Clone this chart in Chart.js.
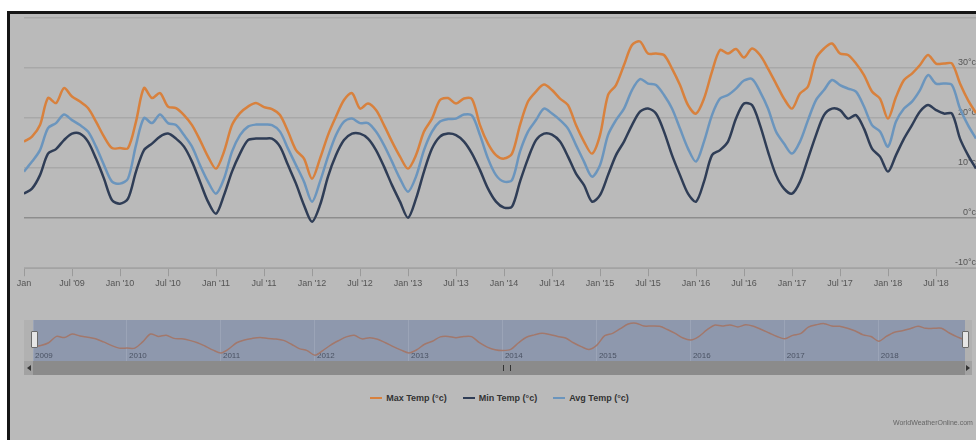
<!DOCTYPE html>
<html>
<head>
<meta charset="utf-8">
<script src="https://cdn.jsdelivr.net/npm/chart.js@4.4.1/dist/chart.umd.min.js"></script>
<style>
  body { margin: 0; width: 976px; height: 440px; background: #fff; position: relative; overflow: hidden;
         font-family: "Liberation Sans", Arial, sans-serif; }
  #frame { position: absolute; left: 7px; top: 11px; right: 0; bottom: 0; background: #bababa;
           border-left: 3px solid #151515; border-top: 3px solid #151515; }
  #mainChart { position: absolute; left: 0; top: 0; }
  #navOuter { position: absolute; left: 24px; top: 320px; width: 948px; height: 41px; background: #b1b1b1; }
  #navChart { position: absolute; left: 33px; top: 320px; background: #8e98ad; }
  .handle { position: absolute; top: 331px; width: 5px; height: 15px; background: #e6e6e6;
            border: 1px solid #6a6a6a; border-radius: 1px; }
  #scroll { position: absolute; left: 24px; top: 361px; width: 948px; height: 14px; background: #a2a2a2; }
  #thumb { position: absolute; left: 9px; top: 0; width: 932px; height: 14px; background: #8b8b8b; }
  .arrow { position: absolute; top: 4px; width: 0; height: 0; border-top: 3px solid transparent; border-bottom: 3px solid transparent; }
  #grip { position: absolute; left: 470px; top: 4px; width: 6px; height: 6px;
          border-left: 1px solid #333; border-right: 1px solid #333; }
  #legend { position: absolute; left: 0; top: 393px; width: 999px; display: flex; justify-content: center;
            font-size: 9px; font-weight: bold; color: #333; }
  #legend span { margin: 0 8px; display: flex; align-items: center; }
  #legend i { display: inline-block; width: 12px; height: 2px; margin-right: 4px; }
  #credit { position: absolute; left: 893px; top: 419px; font-size: 7px; color: #666; white-space: nowrap; }
</style>
</head>
<body>
<div id="frame"></div>
<canvas id="mainChart" width="976" height="292"></canvas>
<div id="navOuter"></div>
<canvas id="navChart" width="932" height="41"></canvas>
<div class="handle" style="left:31px"></div>
<div class="handle" style="left:962px"></div>
<div id="scroll">
  <div id="thumb"><div id="grip"></div></div>
  <div class="arrow" style="left:3px;border-right:4px solid #333"></div>
  <div class="arrow" style="left:942px;border-left:4px solid #333"></div>
</div>
<div id="legend"></div>
<div id="credit">WorldWeatherOnline.com</div>
<script>
Chart.defaults.font.family = '"Liberation Sans", Arial, sans-serif';

var TICK_LABELS = ['Jan', "Jul '09", "Jan '10", "Jul '10", "Jan '11", "Jul '11", "Jan '12", "Jul '12",
                   "Jan '13", "Jul '13", "Jan '14", "Jul '14", "Jan '15", "Jul '15", "Jan '16", "Jul '16",
                   "Jan '17", "Jul '17", "Jan '18", "Jul '18"];
var YEAR_LABELS = ['2009', '2010', '2011', '2012', '2013', '2014', '2015', '2016', '2017', '2018'];
var SERIES_NAMES = ['Max Temp (°c)', 'Min Temp (°c)', 'Avg Temp (°c)'];
var SERIES_COLORS = ['#d8813d', '#2f3d56', '#6b95bd'];

// monthly values, Jan 2009 .. Dec 2018
var MAX_TEMP = [
  15.3, 16.3, 18.6, 24.0, 23.0, 26.0, 24.3, 23.3, 22.0, 19.3, 16.3, 14.0,
  14.0, 14.0, 19.3, 26.0, 24.0, 25.0, 22.3, 22.0, 20.6, 18.6, 15.6, 12.3,
  9.9, 13.3, 18.6, 21.0, 22.3, 23.0, 22.2, 21.8, 20.6, 17.3, 13.6, 11.9,
  7.9, 11.9, 16.6, 20.3, 23.6, 25.0, 21.9, 22.9, 21.6, 18.6, 15.3, 12.3,
  9.9, 12.6, 17.3, 19.9, 23.6, 24.0, 22.9, 23.9, 23.8, 18.6, 14.9, 12.6,
  11.9, 12.9, 18.6, 23.3, 25.3, 26.7, 25.6, 23.9, 22.6, 18.6, 15.3, 12.9,
  16.6, 24.6, 26.6, 30.6, 34.6, 35.3, 32.9, 32.9, 32.6, 29.9, 26.6, 22.6,
  20.9, 23.9, 29.3, 33.6, 32.9, 33.8, 32.1, 33.9, 32.6, 29.9, 26.9, 23.9,
  21.9, 24.9, 26.3, 31.9, 33.9, 34.9, 32.9, 32.6, 30.9, 28.6, 25.3, 23.9,
  19.9, 24.2, 27.6, 28.9, 30.6, 32.6, 30.9, 30.9, 30.9, 26.9, 23.6, 21.0
];
var MIN_TEMP = [
  4.9, 5.9, 8.6, 12.9, 13.8, 15.6, 16.9, 16.9, 15.3, 11.9, 7.9, 3.6,
  2.9, 3.9, 9.3, 13.6, 14.9, 16.3, 16.9, 15.9, 14.3, 11.3, 7.3, 3.3,
  0.9, 4.6, 9.3, 12.9, 15.6, 15.9, 15.9, 15.9, 14.3, 10.6, 6.9, 2.6,
  -0.7, 2.6, 8.3, 12.6, 15.6, 16.9, 16.9, 15.9, 13.6, 10.3, 6.6, 3.3,
  0.1, 3.9, 9.3, 13.9, 16.3, 16.9, 16.6, 15.3, 12.9, 9.6, 5.9, 3.3,
  2.1, 2.3, 7.3, 11.9, 15.6, 16.9, 16.7, 15.3, 12.3, 8.9, 6.6, 3.3,
  4.6, 8.6, 12.6, 15.3, 18.6, 21.3, 21.9, 20.9, 17.3, 12.6, 8.6, 4.9,
  3.3, 7.3, 12.6, 13.6, 15.3, 19.9, 22.9, 22.6, 18.6, 13.3, 8.6, 5.9,
  4.9, 7.3, 11.9, 16.6, 20.6, 21.9, 21.6, 19.9, 20.6, 17.9, 13.9, 12.3,
  9.3, 12.6, 15.9, 18.6, 21.3, 22.6, 21.6, 20.9, 20.9, 15.9, 12.6, 9.9
];
var AVG_TEMP = [
  9.3, 11.3, 13.6, 18.0, 19.0, 20.7, 19.6, 18.6, 17.3, 14.3, 10.6, 7.3,
  6.9, 7.9, 14.6, 20.0, 19.0, 20.7, 19.0, 18.6, 16.6, 14.3, 10.6, 7.3,
  4.9, 7.9, 13.3, 16.6, 18.3, 18.7, 18.7, 18.6, 17.3, 13.9, 10.6, 7.3,
  3.3, 7.3, 12.3, 16.6, 19.3, 19.9, 19.0, 19.0, 17.3, 14.6, 11.3, 7.9,
  5.3, 8.3, 13.6, 17.3, 19.3, 19.8, 19.9, 20.7, 20.5, 16.6, 11.9, 8.6,
  7.3, 7.6, 13.3, 17.3, 19.6, 21.9, 20.9, 19.6, 17.9, 14.6, 11.3, 8.3,
  10.6, 16.6, 19.6, 21.9, 25.6, 27.8, 26.9, 26.6, 24.6, 21.9, 17.9, 13.9,
  11.3, 15.3, 20.6, 23.9, 24.6, 25.9, 27.5, 27.8, 25.3, 21.9, 17.3, 14.9,
  12.9, 15.3, 19.6, 23.6, 25.6, 27.6, 26.6, 25.9, 25.3, 22.3, 18.6, 17.3,
  14.3, 19.3, 21.9, 23.3, 25.6, 28.6, 26.9, 26.9, 26.6, 21.9, 18.6, 15.9
];

function series(values) {
    return values.map((v, i) => ({ x: i, y: v }));
}

var MAIN_CHART = new Chart(document.getElementById('mainChart'), {
    type: 'line',
    data: {
        datasets: [MAX_TEMP, MIN_TEMP, AVG_TEMP].map((values, i) => ({
            label: SERIES_NAMES[i], data: series(values), borderColor: SERIES_COLORS[i]
        }))
    },
    options: {
        responsive: false,
        animation: false,
        layout: { padding: { left: 24, top: 18, right: 0, bottom: 1 } },
        elements: { point: { radius: 0 }, line: { borderWidth: 2.5, tension: 0.3 } },
        plugins: { legend: { display: false }, tooltip: { enabled: false } },
        scales: {
            x: {
                type: 'linear', min: 0, max: MAX_TEMP.length - 1,
                afterBuildTicks: axis => { axis.ticks = TICK_LABELS.map((t, i) => ({ value: i * 6 })); },
                ticks: { autoSkip: false, maxRotation: 0, padding: 2, color: '#555', font: { size: 9 },
                         callback: v => TICK_LABELS[v / 6] },
                grid: { drawOnChartArea: false, tickLength: 8, color: '#9a9a9a' },
                border: { color: '#a3a3a3' }
            },
            y: {
                position: 'right', min: -10, max: 40,
                ticks: { stepSize: 10, mirror: true, padding: 0, labelOffset: -6, color: '#555', font: { size: 9 },
                         callback: v => v >= 40 ? '' : v + '°c' },
                grid: { drawTicks: false, lineWidth: 1.5,
                        color: ctx => ctx.tick && ctx.tick.value === 0 ? '#8d8d8d' : '#a8a8a8' },
                border: { display: false }
            }
        }
    }
});

var NAV_CHART = new Chart(document.getElementById('navChart'), {
    type: 'line',
    data: {
        datasets: [{ data: series(MAX_TEMP), borderColor: '#a2786c', borderWidth: 1.5, tension: 0.3, pointRadius: 0 }]
    },
    options: {
        responsive: false,
        animation: false,
        layout: { padding: 0 },
        plugins: { legend: { display: false }, tooltip: { enabled: false } },
        scales: {
            x: {
                type: 'linear', min: 0, max: MAX_TEMP.length - 1,
                afterBuildTicks: axis => { axis.ticks = YEAR_LABELS.map((t, i) => ({ value: i * 12 })); },
                ticks: { mirror: true, padding: 0, align: 'start', labelOffset: 2, maxRotation: 0, autoSkip: false,
                         color: '#4a5263', font: { size: 8 }, callback: v => YEAR_LABELS[v / 12] },
                grid: { drawTicks: false, color: '#9ba4b7' },
                border: { display: false }
            },
            y: { display: false, min: 3, max: 38 }
        }
    }
});

var legend = document.getElementById('legend');
SERIES_NAMES.forEach((name, i) => {
    var item = document.createElement('span');
    item.innerHTML = '<i style="background:' + SERIES_COLORS[i] + '"></i>' + name;
    legend.appendChild(item);
});
</script>
</body>
</html>
